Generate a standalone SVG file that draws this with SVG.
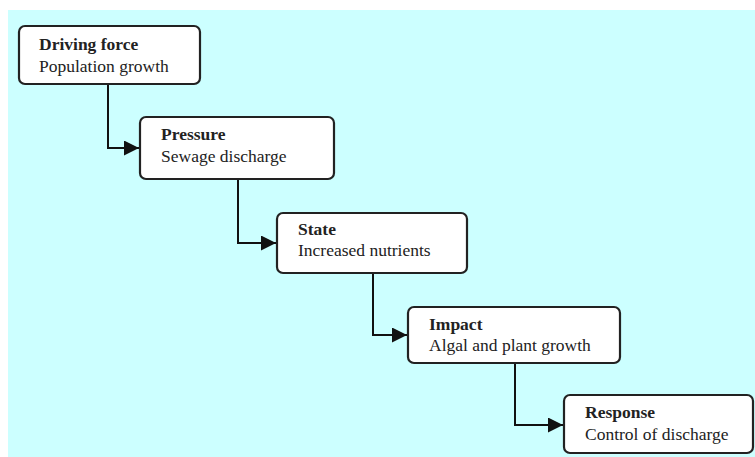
<svg xmlns="http://www.w3.org/2000/svg" width="755" height="457" viewBox="0 0 755 457">
<defs>
<style>
.box{fill:#fff;stroke:#222;stroke-width:2.2}
.t{font-family:"Liberation Serif","Times New Roman",serif;font-size:17.5px;fill:#222}
.b{font-weight:bold;font-size:17.5px}
.c{fill:none;stroke:#111;stroke-width:2}
</style>
<marker id="ah" viewBox="0 0 10 10" refX="10" refY="5" markerWidth="7.5" markerHeight="7.5" markerUnits="strokeWidth" orient="auto"><path d="M0,0 L10,5 L0,10 Z" fill="#111"/></marker>
</defs>
<rect width="755" height="457" fill="#fff"/>
<rect x="8" y="10" width="747" height="447" fill="#ccffff"/>
<g id="connectors">
<path class="c" d="M108,84 V148 H139" marker-end="url(#ah)"/>
<path class="c" d="M238,179 V243 H276" marker-end="url(#ah)"/>
<path class="c" d="M373,273 V335 H407" marker-end="url(#ah)"/>
<path class="c" d="M515,363 V425 H563" marker-end="url(#ah)"/>
</g>
<g id="driving">
<rect class="box" x="19" y="26" width="181" height="58" rx="6"/>
<text class="t b" x="39" y="50">Driving force</text>
<text class="t" x="39" y="72">Population growth</text>
</g>
<g id="pressure">
<rect class="box" x="140" y="117" width="194" height="62" rx="6"/>
<text class="t b" x="161" y="140">Pressure</text>
<text class="t" x="161" y="162">Sewage discharge</text>
</g>
<g id="state">
<rect class="box" x="277" y="213" width="190" height="60" rx="6"/>
<text class="t b" x="298" y="235">State</text>
<text class="t" x="298" y="256">Increased nutrients</text>
</g>
<g id="impact">
<rect class="box" x="408" y="307" width="212" height="56" rx="6"/>
<text class="t b" x="429" y="330">Impact</text>
<text class="t" x="429" y="351">Algal and plant growth</text>
</g>
<g id="response">
<rect class="box" x="564" y="395" width="189" height="58" rx="6"/>
<text class="t b" x="585" y="418">Response</text>
<text class="t" x="585" y="440">Control of discharge</text>
</g>
</svg>
